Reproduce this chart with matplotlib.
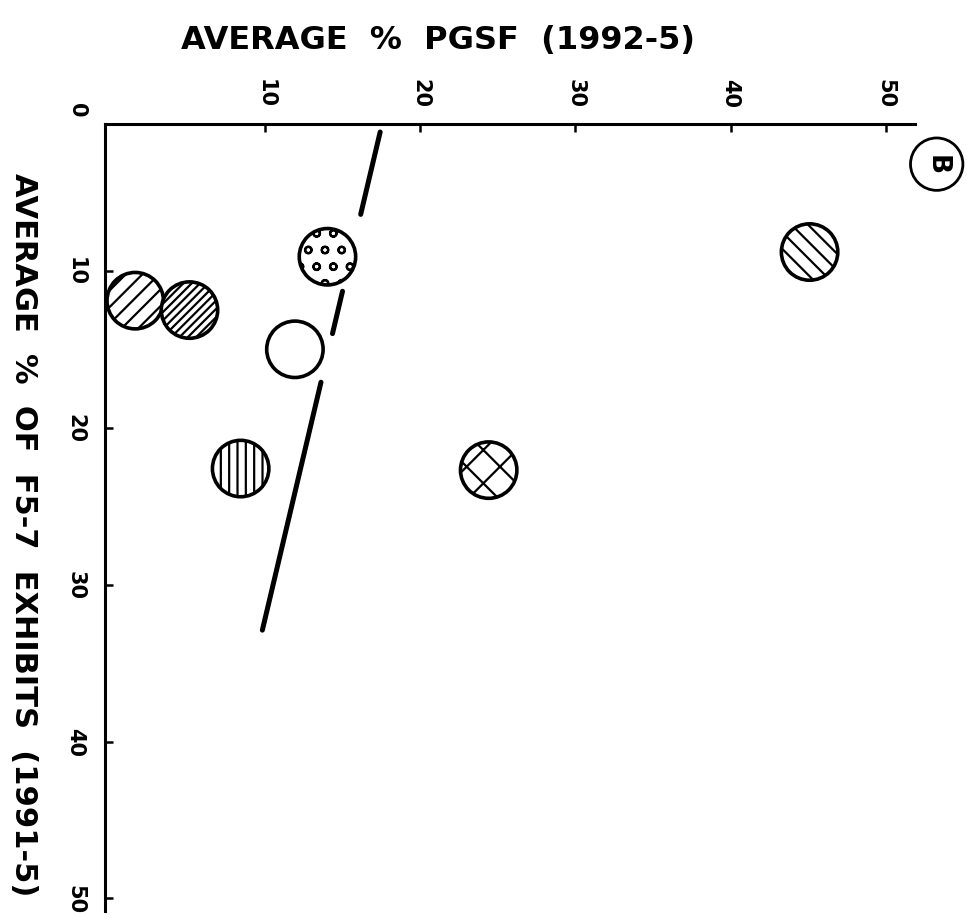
import matplotlib
matplotlib.use("Agg")
import matplotlib.pyplot as plt
import numpy as np

# data
pgsf = [1.6, 5.1, 14.0, 11.9, 8.4, 24.4, 45.1]          # x: average % PGSF (1992-5)
fs7 = [11.9, 12.5, 9.1, 15.0, 22.6, 22.7, 8.8]          # y: average % of FS-7 exhibits
fills = ['//', '////', 'o', '', '||', 'x', '\\\\']

# fitted line, drawn with gaps where it passes the circles
line_x = [17.4, 9.8]
line_y = [1.15, 32.9]
line_pieces = [(1.15, 6.4), (11.3, 14.0), (17.1, 32.9)]

ticks = [10, 20, 30, 40, 50]

plt.rcParams['hatch.linewidth'] = 1.6
plt.rcParams['font.family'] = 'DejaVu Sans'

fig = plt.figure(figsize=(9.67, 9.2), dpi=100)
ax = fig.add_axes([105/967, 1 - 912/920, 810/967, 787/920])

ax.set_xlim(-0.35, 51.9)
ax.set_ylim(50.8, 0.64)

# fitted line
for y0, y1 in line_pieces:
    ys = np.array([y0, y1])
    xs = np.interp(ys, line_y, line_x)
    ax.plot(xs, ys, color='black', lw=3.6, solid_capstyle='round', zorder=2)

# circles
for x, y, h in zip(pgsf, fs7, fills):
    ax.scatter(x, y, s=1650, facecolor='white', edgecolor='black',
               linewidths=2.6, hatch=h, zorder=3, clip_on=False)

# panel label
ax.text(53.3, 3.2, 'B', rotation=-90, fontsize=19, fontweight='bold',
        ha='center', va='center', clip_on=False,
        bbox=dict(boxstyle='circle,pad=0.5', fc='white', ec='black', lw=2))

for s in ['right', 'bottom']:
    ax.spines[s].set_visible(False)
for s in ['left', 'top']:
    ax.spines[s].set_linewidth(2.2)

ax.xaxis.tick_top()
ax.set_xticks(ticks)
ax.set_yticks(ticks)
ax.set_xticklabels([str(t) for t in ticks], rotation=-90, fontsize=15,
                   fontweight='bold')
ax.set_yticklabels([str(t) for t in ticks], rotation=-90, fontsize=15,
                   fontweight='bold', va='center')
ax.tick_params(axis='both', direction='in', length=6, width=1.8)
ax.tick_params(axis='x', pad=12)
ax.tick_params(axis='y', pad=14)

# origin label
ax.text(-0.035, 1.019, '0', transform=ax.transAxes, rotation=-90,
        fontsize=15, fontweight='bold', ha='center', va='center')

fig.text(438/967, 1 - 40/920, 'AVERAGE  %  PGSF  (1992-5)', fontsize=23,
         fontweight='bold', ha='center', va='center')
fig.text(23/967, 1 - 535/920, 'AVERAGE  %  OF  F5-7  EXHIBITS  (1991-5)',
         rotation=-90, fontsize=22, fontweight='bold', ha='center', va='center')

fig.savefig('out.png', dpi=100)
